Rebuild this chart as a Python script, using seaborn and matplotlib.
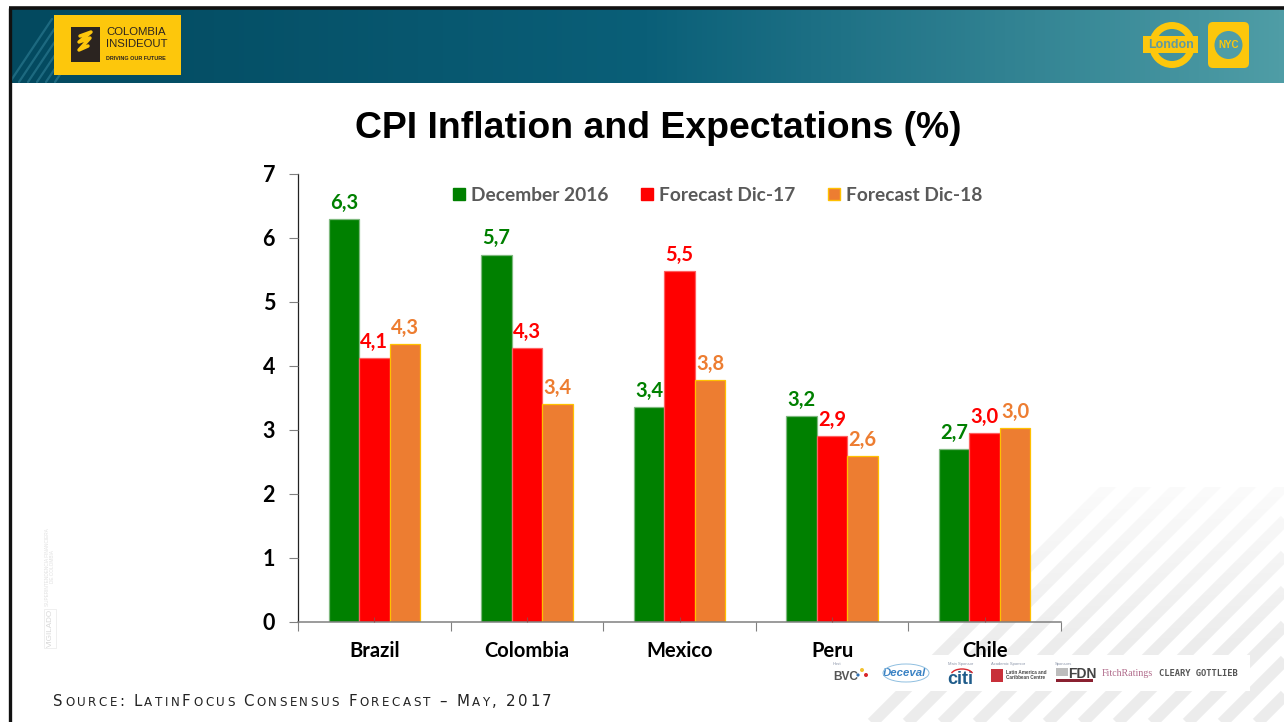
import matplotlib
matplotlib.use("Agg")
import matplotlib.pyplot as plt
from matplotlib.patches import Rectangle, Circle, Polygon, FancyBboxPatch, Arc
from matplotlib.lines import Line2D
import numpy as np
import pandas as pd
import seaborn as sns

countries = ["Brazil", "Colombia", "Mexico", "Peru", "Chile"]
dec_2016 = [6.29, 5.74, 3.36, 3.22, 2.70]
dic_17 = [4.12, 4.28, 5.48, 2.91, 2.95]
dic_18 = [4.34, 3.41, 3.78, 2.59, 3.03]
series_names = ["December 2016", "Forecast Dic-17", "Forecast Dic-18"]
series_colors = ["#008000", "#ff0000", "#ed7d31"]
edge_colors = ["#7fb97f", "#ff6060", "#ffc000"]
y_ticks = [0, 1, 2, 3, 4, 5, 6, 7]

W, H = 1284, 722
LABEL_FONT = "Lato"
YELLOW = "#fdc70c"
TEAL = "#4f9da6"

sns.set_theme(style="white")
plt.rcParams["font.family"] = ["Lato", "DejaVu Sans"]

fig = plt.figure(figsize=(W / 100, H / 100), dpi=100)

# slide background, in pixel coordinates
bg = fig.add_axes([0, 0, 1, 1], zorder=0)
bg.axis("off")

# diagonal stripes, bottom right
clip = Polygon([(860, 722), (1095, 487), (1284, 487), (1284, 722)], transform=bg.transData,
               fc="none", ec="none")
bg.add_patch(clip)
for start in range(790, 1800, 35):
    ln = bg.plot([start, start + 300], [735, 435], color="#ececec", lw=8.4, solid_capstyle="butt", zorder=1)[0]
    ln.set_clip_path(clip)

# stripes fade out towards the top
fade = np.ones((256, 2, 4))
fade[:, :, 3] = np.linspace(0.8, 0, 256)[:, None]
bg.imshow(fade, extent=(850, W, 650, 485), aspect="auto", zorder=1.2)

# header gradient
grad = np.linspace(0, 1, 256).reshape(1, -1)
cmap = matplotlib.colors.LinearSegmentedColormap.from_list("hdr", ["#03495f", "#0a5f78", TEAL])
bg.imshow(grad, extent=(10, W, 83, 9), aspect="auto", cmap=cmap, zorder=2)
# stripes at the far left of the header
for start in range(10, 60, 9):
    bg.plot([start, start + 42], [82, 19], color="#2f7f96", lw=1.6, alpha=0.6, zorder=2.1)

# slide frame
bg.plot([10, 10], [H, 8], color="#111111", lw=2.4, zorder=4, solid_capstyle="butt")
bg.plot([9, W], [8, 8], color="#111111", lw=2.6, zorder=4, solid_capstyle="butt")

# left logo
bg.add_patch(Rectangle((54, 15), 127, 60, fc=YELLOW, ec="none", zorder=5))
bg.add_patch(Rectangle((71, 27), 29, 35, fc="#2b2420", ec="none", zorder=6))
bg.plot([80, 91, 79, 90, 79, 88], [36, 32, 42, 38, 50, 46], color=YELLOW, lw=2.5, zorder=7)
bg.text(106, 32, "COLOMBIA", fontsize=8.2, family="Liberation Sans", color="#2b2420", va="center", zorder=7)
bg.text(106, 44, "INSIDEOUT", fontsize=8.2, family="Liberation Sans", color="#2b2420", va="center", zorder=7)
bg.text(106, 58, "DRIVING OUR FUTURE", fontsize=3.9, family="Liberation Sans", weight="bold",
        color="#2b2420", va="center", zorder=7)

# right logos
bg.add_patch(Circle((1172, 45), 19.5, fc="none", ec=YELLOW, lw=5, zorder=5))
bg.add_patch(Rectangle((1143, 36), 55, 16.5, fc=YELLOW, ec="none", zorder=6))
bg.text(1171, 44.5, "London", fontsize=9, family="Liberation Sans", weight="bold", color="#5f9aa0",
        ha="center", va="center", zorder=7)
bg.add_patch(FancyBboxPatch((1208, 22), 41, 46, boxstyle="round,pad=0,rounding_size=5",
                            fc=YELLOW, ec="none", zorder=5))
bg.add_patch(Circle((1228.5, 45), 14, fc=TEAL, ec="none", zorder=6))
bg.text(1228.5, 45.5, "NYC", fontsize=7, family="Liberation Sans", weight="bold", color=YELLOW,
        ha="center", va="center", zorder=7)

# title
bg.text(658, 128.5, "CPI Inflation and Expectations (%)", fontsize=26.9, family="Liberation Sans",
        weight="bold", color="black", ha="center", va="center", zorder=7)

# watermark on the left
bg.add_patch(Rectangle((44, 609), 12, 39, fc="none", ec="#ececec", lw=0.6, zorder=6))
bg.text(50, 628, "VIGILADO", fontsize=5.9, family="Liberation Sans", color="#d8d8d8", rotation=90,
        ha="center", va="center", zorder=7)
bg.text(50, 567, "SUPERINTENDENCIA FINANCIERA\nDE COLOMBIA", fontsize=3.4, family="Liberation Sans",
        color="#e0e0e0", rotation=90, ha="center", va="center", zorder=7)

# sponsor strip
bg.add_patch(Rectangle((825, 655), 425, 36, fc="white", ec="none", zorder=5))
for x_txt, head in [(833, "Host"), (948, "Main Sponsor"), (991, "Academic Sponsor"), (1055, "Sponsors")]:
    bg.text(x_txt, 664, head, fontsize=3, family="Liberation Sans", color="#8a94a8", va="center", zorder=7)
bg.text(833, 677, "BVC", fontsize=8.6, family="Liberation Sans", weight="bold", color="#555555",
        va="center", zorder=7)
bg.add_patch(Circle((862, 670), 2, fc="#f2c230", ec="none", zorder=7))
bg.add_patch(Circle((866, 675), 2, fc="#d8262c", ec="none", zorder=7))
bg.add_patch(Circle((858, 675), 1.6, fc="#2f6fb0", ec="none", zorder=7))
bg.text(904, 673, "Deceval", fontsize=8.2, family="Liberation Sans", style="italic", weight="bold",
        color="#3a82c4", ha="center", va="center", zorder=7)
bg.add_patch(Arc((906, 673), 46, 18, fc="none", ec="#8fbfe0", lw=0.7, zorder=7))
bg.text(960.5, 679, "citi", fontsize=13, family="Liberation Sans", weight="bold", color="#1f5c8a",
        ha="center", va="center", zorder=7)
bg.add_patch(Arc((962, 675), 22, 12, theta1=190, theta2=350, fc="none", ec="#d8262c", lw=1, zorder=7))
bg.add_patch(Rectangle((991, 669), 12, 13, fc="#c8303a", ec="none", zorder=6))
bg.text(1006, 675, "Latin America and\nCaribbean Centre", fontsize=3.3, family="Liberation Sans",
        weight="bold", color="#444444", va="center", zorder=7)
bg.text(1068, 674, "FDN", fontsize=10, family="Liberation Sans", weight="bold", color="#444444",
        va="center", zorder=7)
bg.add_patch(Rectangle((1056, 668), 12, 8, fc="#bdbdbd", ec="none", zorder=6))
bg.add_patch(Rectangle((1056, 679), 37, 2.5, fc="#8a2030", ec="none", zorder=6))
bg.text(1102, 674, "FitchRatings", fontsize=7.1, family="Liberation Serif", color="#b06a8a",
        va="center", zorder=7)
bg.text(1159, 673, "CLEARY GOTTLIEB", fontsize=6.3, family="DejaVu Sans Mono", weight="bold",
        color="#555555", va="center", zorder=7)

bg.set_xlim(0, W)
bg.set_ylim(H, 0)

# source line, small caps by hand
source = "Source: LatinFocus Consensus Forecast – May, 2017"
renderer = fig.canvas.get_renderer()
x_pos = 53.0
for ch in source:
    small = ch.islower()
    t = bg.text(x_pos, 706, ch.upper(), fontsize=8.6 if small else 10.8, family="DejaVu Sans",
                color="#222222", va="baseline", ha="left", zorder=7)
    if ch == " ":
        x_pos += 6.5
    else:
        x_pos += t.get_window_extent(renderer).width + 2.52

# chart
ax = fig.add_axes([298 / W, 1 - 622 / H, (1061 - 298) / W, (622 - 174) / H], zorder=2)
ax.patch.set_alpha(0)

df = pd.DataFrame({
    "country": countries * 3,
    "value": dec_2016 + dic_17 + dic_18,
    "series": [s for s in series_names for _ in countries],
})
sns.barplot(data=df, x="country", y="value", hue="series", order=countries, hue_order=series_names,
            palette=series_colors, width=0.6, gap=0, saturation=1, errorbar=None, legend=False, ax=ax)

for container, color, edge in zip(ax.containers, series_colors, edge_colors):
    for bar in container:
        bar.set_edgecolor(edge)
        bar.set_linewidth(0.9)
    labels = [f"{b.get_height():.1f}".replace(".", ",") for b in container]
    ax.bar_label(container, labels=labels, padding=4.5, color=color, fontsize=14.5,
                 fontweight="bold", family=LABEL_FONT)

ax.set_xlim(-0.5, 4.5)
ax.set_ylim(0, 7)
ax.set_xlabel("")
ax.set_ylabel("")
ax.set_axisbelow(False)
ax.set_yticks(y_ticks)
ax.set_yticklabels([str(v) for v in y_ticks], fontsize=15.5, fontweight="bold", color="black")

# category labels sit between boundary ticks
ax.set_xticks(np.arange(-0.5, 5, 1))
ax.set_xticklabels([])
ax.set_xticks(range(len(countries)), minor=True)
ax.set_xticklabels(countries, minor=True, fontsize=14.5, fontweight="bold", color="black")
ax.tick_params(axis="x", which="major", length=6.5, width=0.8, color="#808080", bottom=True)
ax.tick_params(axis="x", which="minor", direction="in", length=3.5, width=0.8, color="#a04040", pad=14, bottom=True)
ax.tick_params(axis="y", length=6.5, width=0.8, color="#808080", left=True, pad=10)

for side in ["top", "right"]:
    ax.spines[side].set_visible(False)
ax.spines["left"].set_color("#222222")
ax.spines["left"].set_linewidth(0.9)
ax.spines["bottom"].set_color("#808080")
ax.spines["bottom"].set_linewidth(1.1)

handles = [Line2D([], [], marker="s", ls="none", color=c, markeredgecolor=e, markersize=8.5)
           for c, e in zip(series_colors, ["#008000", "#ff0000", "#ffc000"])]
ax.legend(handles, series_names, loc="upper left", bbox_to_anchor=(0.198, 0.972), ncol=3, frameon=False,
          handlelength=1.0, handletextpad=0.15, columnspacing=1.5, borderpad=0, borderaxespad=0,
          labelcolor="#595959", prop={"family": LABEL_FONT, "weight": "bold", "size": 13.8})

fig.savefig("out.png", dpi=100)
